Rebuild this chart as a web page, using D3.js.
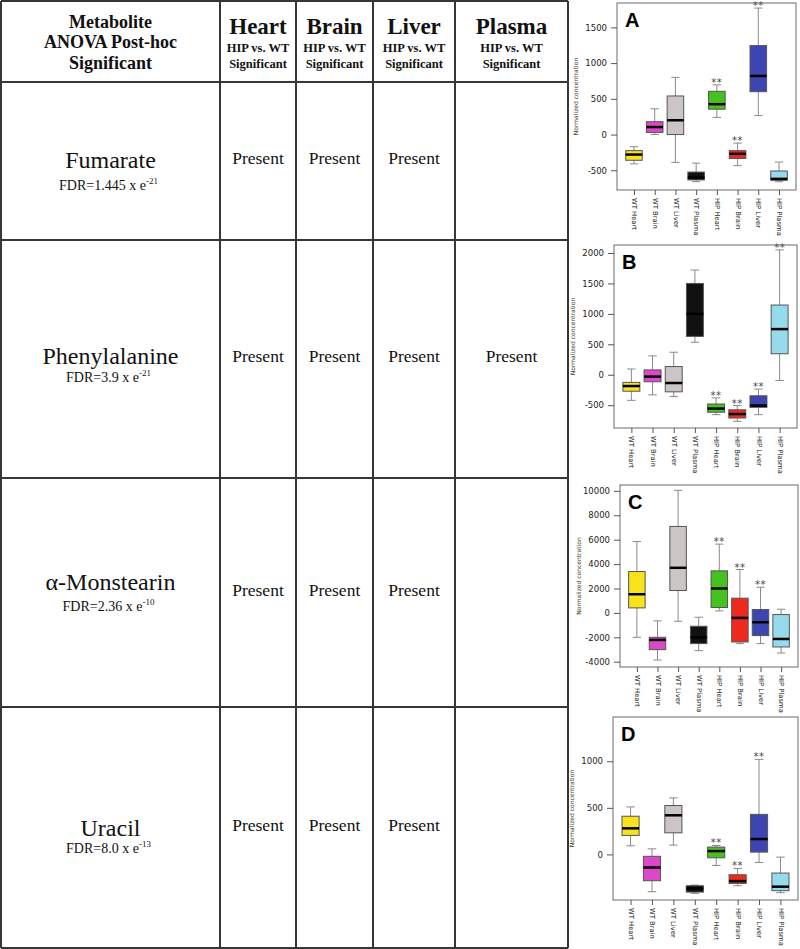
<!DOCTYPE html>
<meta charset="utf-8">
<style>
body { margin: 0; background: #fff; }
svg { display: block; font-family: "Liberation Serif", "Times New Roman", serif; }
.grid line { stroke: #363636; stroke-width: 2; }
.axis text { font-family: "DejaVu Sans", sans-serif; fill: #222; }
.axis line { stroke: #555; }
.axis path { display: none; }
.whisker { stroke: #8a8a8a; stroke-width: 1; }
.box { stroke: #555; stroke-width: 1; }
.median { stroke: #000; stroke-width: 2.5; }
</style>
<script src="https://d3js.org/d3.v7.min.js"></script>
<body>
<script>

// ---- data ----
var tissues = ["Heart", "Brain", "Liver", "Plasma"];
var metabolites = ["Fumarate", "Phenylalanine", "\u03b1-Monstearin", "Uracil"];
var fdrBase = ["1.445", "3.9", "2.36", "8.0"];
var fdrExp = ["-21", "-21", "-10", "-13"];
// 1 = "Present" in that tissue column
var present = [
  [1, 1, 1, 0],
  [1, 1, 1, 1],
  [1, 1, 1, 0],
  [1, 1, 1, 0]
];

var groups = ["WT Heart", "WT Brain", "WT Liver", "WT Plasma", "HIP Heart", "HIP Brain", "HIP Liver", "HIP Plasma"];
var groupColors = ["#f7e21b", "#dd48c8", "#cbc5c6", "#111111", "#44c21f", "#ee2a1d", "#3d45b3", "#95dbec"];
var panelLetters = ["A", "B", "C", "D"];

// box stats per group: [lower whisker, q1, median, q3, upper whisker]
var fumarate = [
  [-410, -360, -280, -225, -170],
  [0, 30, 105, 180, 360],
  [-390, 0, 200, 540, 800],
  [-660, -635, -600, -525, -400],
  [240, 355, 425, 605, 695],
  [-435, -335, -270, -225, -120],
  [265, 600, 820, 1245, 1770],
  [-660, -640, -620, -510, -385]
];
var phenylalanine = [
  [-420, -270, -185, -125, 95],
  [-330, -115, -30, 80, 310],
  [-355, -280, -135, 135, 370],
  [535, 630, 1000, 1500, 1720],
  [-655, -615, -555, -480, -380],
  [-765, -710, -645, -575, -505],
  [-655, -535, -505, -345, -235],
  [-95, 345, 750, 1145, 2050]
];
var monstearin = [
  [-2000, 410, 1530, 3390, 5850],
  [-3860, -3010, -2215, -2000, -655],
  [-685, 1835, 3695, 7085, 10040],
  [-3090, -2515, -2000, -1095, -355],
  [165, 440, 2000, 3445, 5635],
  [-2515, -2380, -410, 1205, 3555],
  [-2515, -1860, -765, 275, 2105],
  [-3285, -2790, -2135, -135, 300]
];
var uracil = [
  [93, 204, 280, 410, 510],
  [-400, -282, -140, -20, 60],
  [100, 232, 420, 525, 607],
  [-418, -404, -365, -336, -329],
  [-118, -36, 36, 79, 96],
  [-336, -311, -286, -218, -150],
  [-86, 25, 165, 430, 1020],
  [-411, -389, -346, -200, -29]
];
var panelStats = [fumarate, phenylalanine, monstearin, uracil];

var yDomains = [[-776, 1841], [-874, 2131], [-4432, 10479], [-489, 1475]];
var yTicks = [
  [-500, 0, 500, 1000, 1500],
  [-500, 0, 500, 1000, 1500, 2000],
  [-4000, -2000, 0, 2000, 4000, 6000, 8000, 10000],
  [0, 500, 1000]
];

// ---- layout ----
var W = 800, H = 949;
var colEdges = [1, 220, 296, 373, 455, 568];
var rowEdges = [1, 82, 240, 478, 707, 948];
var nameShift = [7, 5, -3, 8];   // baseline of metabolite name relative to row middle
var fdrGap = [22, 18, 21, 17];
var panels = [
  {x0: 617, x1: 796, y0: 3, y1: 190},
  {x0: 614, x1: 797, y0: 245, y1: 428},
  {x0: 620, x1: 798, y0: 485, y1: 667},
  {x0: 613, x1: 798, y0: 717, y1: 900}
];

var svg = d3.select("body").append("svg")
    .attr("width", W)
    .attr("height", H);

// ---- table ----
var grid = svg.append("g").attr("class", "grid");
grid.selectAll(".v")
    .data(colEdges)
  .enter().append("line")
    .attr("x1", function(d) { return d; })
    .attr("x2", function(d) { return d; })
    .attr("y1", rowEdges[0])
    .attr("y2", rowEdges[rowEdges.length - 1]);
grid.selectAll(".h")
    .data(rowEdges)
  .enter().append("line")
    .attr("y1", function(d) { return d; })
    .attr("y2", function(d) { return d; })
    .attr("x1", colEdges[0])
    .attr("x2", colEdges[colEdges.length - 1]);

var colMid = function(i) { return (colEdges[i] + colEdges[i + 1]) / 2; };
var rowMid = function(i) { return (rowEdges[i + 1] + rowEdges[i + 2]) / 2; };

// header
var head = svg.append("g").attr("font-weight", "bold").attr("text-anchor", "middle").attr("fill", "#111");
["Metabolite", "ANOVA Post-hoc", "Significant"].forEach(function(t, i) {
  head.append("text")
      .attr("x", colMid(0))
      .attr("y", [28, 48, 69][i])
      .attr("font-size", 18)
      .text(t);
});
tissues.forEach(function(t, j) {
  head.append("text").attr("x", colMid(j + 1)).attr("y", 34).attr("font-size", 23).text(t);
  head.append("text").attr("x", colMid(j + 1)).attr("y", 52).attr("font-size", 12.5).text("HIP vs. WT");
  head.append("text").attr("x", colMid(j + 1)).attr("y", 68).attr("font-size", 12.5).text("Significant");
});

// body rows
metabolites.forEach(function(m, i) {
  var cy = rowMid(i);
  svg.append("text")
      .attr("x", colMid(0))
      .attr("y", cy + nameShift[i])
      .attr("text-anchor", "middle")
      .attr("font-size", 24)
      .attr("fill", "#111")
      .text(m);
  var fdr = svg.append("text")
      .attr("x", colMid(0) - 2)
      .attr("y", cy + nameShift[i] + fdrGap[i])
      .attr("text-anchor", "middle")
      .attr("font-size", 14)
      .attr("fill", "#111")
      .text("FDR=" + fdrBase[i] + " x e");
  fdr.append("tspan").attr("font-size", 9).attr("dy", -6).text(fdrExp[i]);

  present[i].forEach(function(p, j) {
    if (!p) return;
    svg.append("text")
        .attr("x", colMid(j + 1))
        .attr("y", cy + 3)
        .attr("text-anchor", "middle")
        .attr("font-size", 17.5)
        .attr("fill", "#111")
        .text("Present");
  });
});

// ---- box plots ----
panels.forEach(function(p, k) {
  var stats = panelStats[k];
  var g = svg.append("g");
  var x = d3.scaleLinear().domain([0.18, 8.82]).range([p.x0, p.x1]);
  var y = d3.scaleLinear().domain(yDomains[k]).range([p.y1, p.y0]);
  var bw = (x(1.4) - x(0.6));
  var cap = bw / 2;

  var b = g.selectAll(".grp")
      .data(stats)
    .enter().append("g")
      .attr("class", "grp");

  // whiskers
  b.append("line").attr("class", "whisker")
      .attr("x1", function(d, i) { return x(i + 1); })
      .attr("x2", function(d, i) { return x(i + 1); })
      .attr("y1", function(d) { return y(d[4]); })
      .attr("y2", function(d) { return y(d[0]); });
  [0, 4].forEach(function(q) {
    b.append("line").attr("class", "whisker")
        .attr("x1", function(d, i) { return x(i + 1) - cap / 2; })
        .attr("x2", function(d, i) { return x(i + 1) + cap / 2; })
        .attr("y1", function(d) { return y(d[q]); })
        .attr("y2", function(d) { return y(d[q]); });
  });

  b.append("rect").attr("class", "box")
      .attr("x", function(d, i) { return x(i + 1) - bw / 2; })
      .attr("width", bw)
      .attr("y", function(d) { return y(d[3]); })
      .attr("height", function(d) { return y(d[1]) - y(d[3]); })
      .attr("fill", function(d, i) { return groupColors[i]; });

  b.append("line").attr("class", "median")
      .attr("x1", function(d, i) { return x(i + 1) - bw / 2; })
      .attr("x2", function(d, i) { return x(i + 1) + bw / 2; })
      .attr("y1", function(d) { return y(d[2]); })
      .attr("y2", function(d) { return y(d[2]); });

  // significance stars on HIP groups
  b.filter(function(d, i) { return i >= 4 && present[k][i - 4]; })
    .append("text")
      .attr("x", function(d) { return x(stats.indexOf(d) + 1); })
      .attr("y", function(d) { return y(d[4]) + 1; })
      .attr("text-anchor", "middle")
      .attr("font-family", "DejaVu Sans, sans-serif")
      .attr("font-size", 10)
      .attr("letter-spacing", 0.5)
      .attr("fill", "#444")
      .text("**");

  // frame
  g.append("rect")
      .attr("x", p.x0).attr("y", p.y0)
      .attr("width", p.x1 - p.x0).attr("height", p.y1 - p.y0)
      .attr("fill", "none")
      .attr("stroke", "#6a6a6a");

  // y axis
  g.append("g")
      .attr("class", "axis")
      .attr("transform", "translate(" + p.x0 + ",0)")
      .call(d3.axisLeft(y).tickValues(yTicks[k]).tickSize(6).tickPadding(4)
        .tickFormat(function(d) { return String(d); }))
      .selectAll("text").attr("font-size", 8.5);

  g.append("text")
      .attr("transform", "translate(" + (p.x0 - 39) + "," + ((p.y0 + p.y1) / 2) + ")rotate(-90)")
      .attr("text-anchor", "middle")
      .attr("font-family", "DejaVu Sans, sans-serif")
      .attr("font-size", 6)
      .attr("fill", "#4a3a2a")
      .text("Normalized concentration");

  // x axis
  var xa = g.append("g")
      .attr("class", "axis")
      .attr("transform", "translate(0," + p.y1 + ")")
      .call(d3.axisBottom(x).tickValues(d3.range(1, 9)).tickSize(5)
        .tickFormat(function(d) { return groups[d - 1]; }));
  xa.selectAll("text")
      .attr("font-size", 6.8)
      .attr("transform", "rotate(90)")
      .attr("text-anchor", "start")
      .attr("x", 8)
      .attr("y", 0)
      .attr("dy", "0.35em");

  g.append("text")
      .attr("x", p.x0 + 8)
      .attr("y", p.y0 + 24)
      .attr("font-family", "Liberation Sans, Arial, sans-serif")
      .attr("font-weight", "bold")
      .attr("font-size", 20)
      .attr("fill", "#000")
      .text(panelLetters[k]);
});

</script>
